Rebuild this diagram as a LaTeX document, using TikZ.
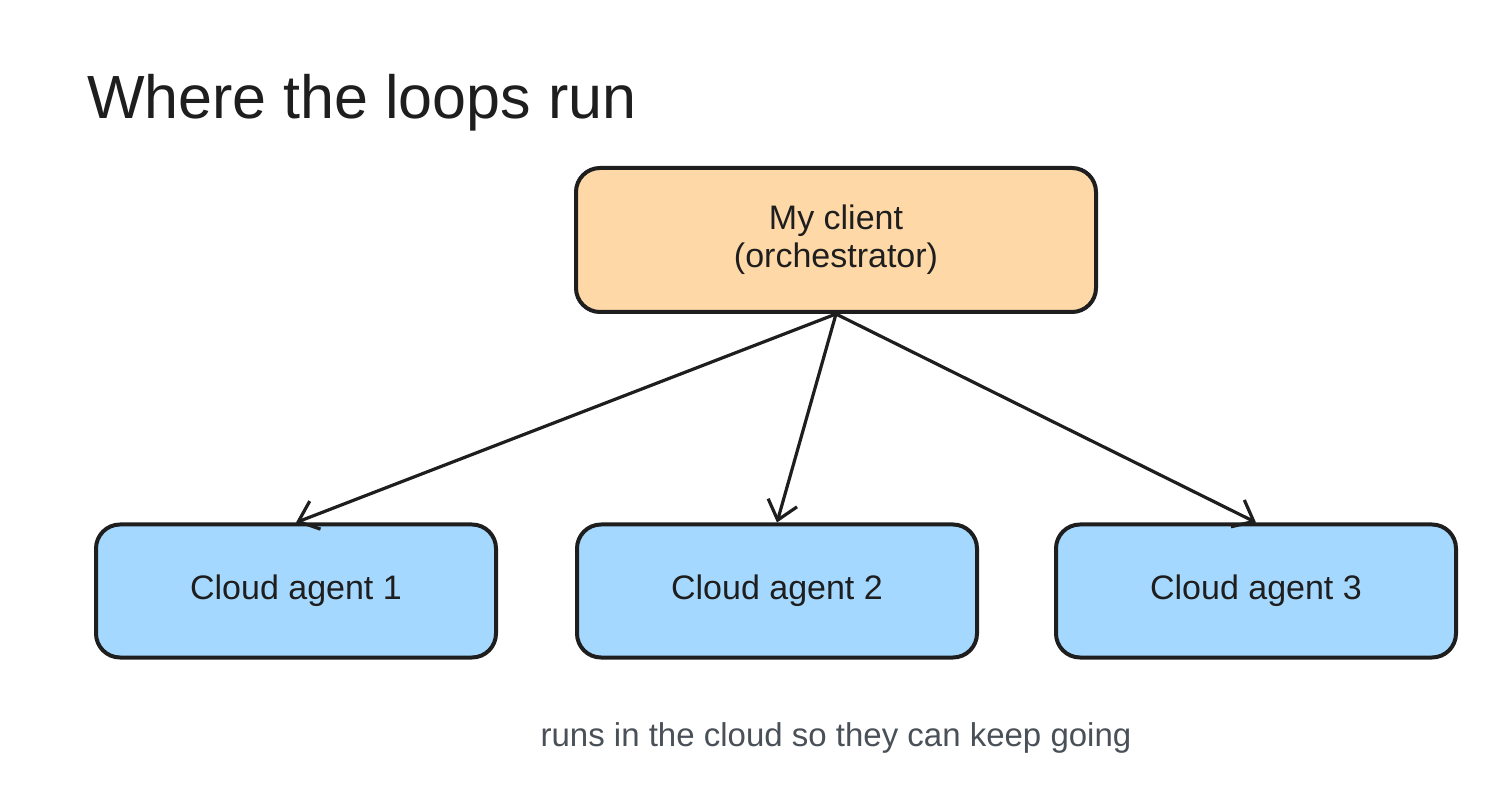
\documentclass[tikz,border=0pt]{standalone}
\usepackage{fontspec}
\setmainfont{Liberation Sans}
\usetikzlibrary{positioning, arrows.meta}
\definecolor{clientfill}{HTML}{FFD8A8}
\definecolor{agentfill}{HTML}{A5D8FF}
\definecolor{inkline}{HTML}{1E1E1E}
\definecolor{notegray}{HTML}{495057}

\begin{document}
\begin{tikzpicture}[x=0.5pt, y=-0.5pt,
    box/.style={draw=inkline, line width=2pt, rounded corners=12pt, align=center, text=inkline, font=\fontsize{17}{19}\selectfont},
    client/.style={box, fill=clientfill, minimum width=260pt, minimum height=72pt},
    agent/.style={box, fill=agentfill, minimum width=200pt, minimum height=66.5pt},
    link/.style={draw=inkline, line width=1.6pt, -{Straight Barb[length=9pt, width=15pt, line width=1.6pt]}}]
  \useasboundingbox (0,0) rectangle (1512,802);
  \node[anchor=west, font=\fontsize{30.5}{34}\selectfont, text=inkline] (title) at (80,103) {Where the loops run};
  \node[client] (client) at (836,240) {My client\\(orchestrator)};
  \node[agent] (agent1) at (296,591) {Cloud agent 1};
  \node[agent] (agent2) at (777,591) {Cloud agent 2};
  \node[agent] (agent3) at (1256,591) {Cloud agent 3};
  \draw[link] (client.south) -- (agent1.north);
  \draw[link] (client.south) -- (agent2.north);
  \draw[link] (client.south) -- (agent3.north);
  \node[font=\fontsize{16.5}{19}\selectfont, text=notegray] (note) at (836,738) {runs in the cloud so they can keep going};
\end{tikzpicture}
\end{document}
